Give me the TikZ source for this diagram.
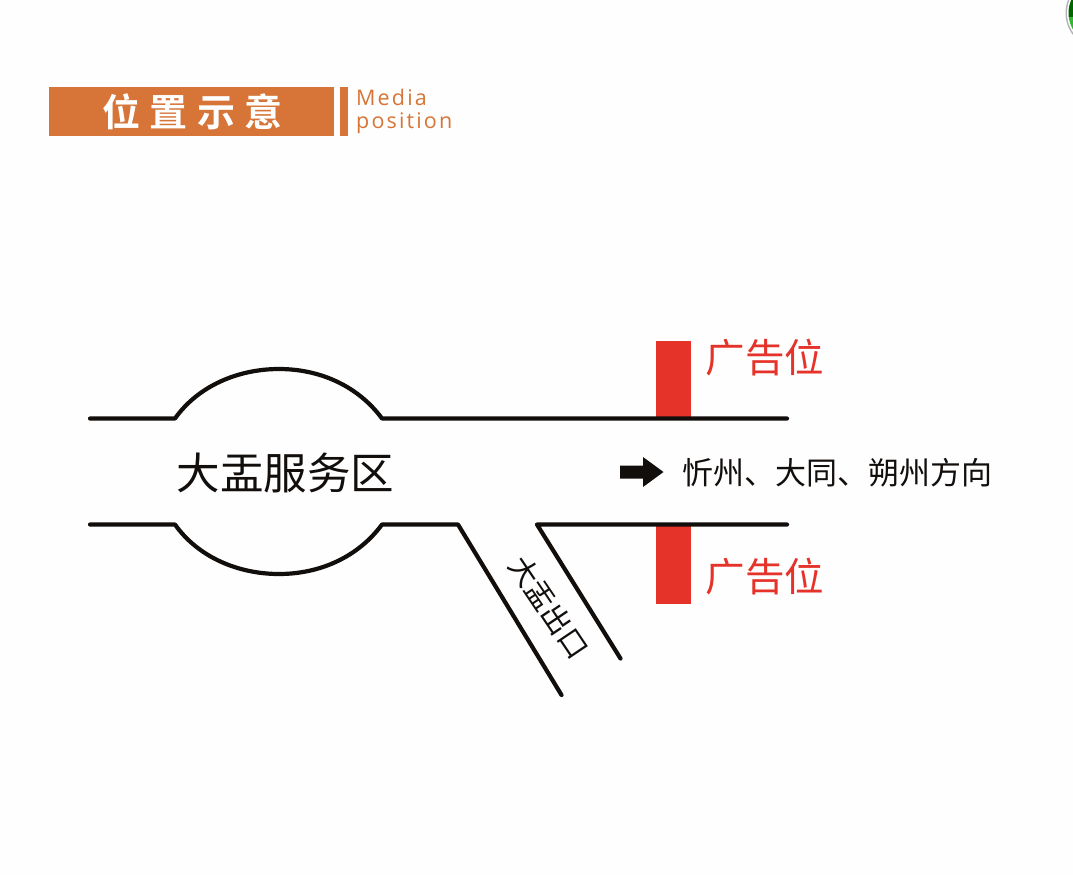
\documentclass[tikz,border=0pt]{standalone}
\usepackage{fontspec}
\newfontfamily\cjk{Noto Sans CJK SC}
\newfontfamily\cjkbold{Noto Sans CJK SC Bold}
\newfontfamily\latinf[LetterSpace=10]{Open Sans}
\definecolor{titleorange}{HTML}{D67537}
\definecolor{adred}{HTML}{E5332A}
\definecolor{roadblack}{HTML}{120E0C}
\tikzset{
  road/.style={draw=roadblack,line width=4.2pt,line cap=round,line join=round},
  adbar/.style={fill=adred,draw=none},
  adlabel/.style={inner sep=0pt,text=adred,font=\cjk\fontsize{39.5}{39.5}\selectfont},
  blacklabel/.style={inner sep=0pt,text=roadblack},
}
\begin{document}
\begin{tikzpicture}[x=1pt,y=-1pt]
\useasboundingbox (0,0) rectangle (1073,876);
\fill[white!99.5!black] (0,0) rectangle (1073,876);
% corner badge
\begin{scope}
\clip (0,0) rectangle (1073,876);
\fill[black!30] (1101.5,13) circle (36);
\fill[white] (1101.5,13) circle (34.5);
\begin{scope}
\clip (1101.5,13) circle (33);
\fill[green!40!black] (1060,-25) rectangle (1110,17);
\fill[green!65!black!80] (1060,17) rectangle (1110,50);
\end{scope}
\end{scope}
% header
\fill[titleorange] (49,87) rectangle (333.5,135.5);
\fill[titleorange] (339.5,87) rectangle (347.5,135.5);
\node[inner sep=0pt,text=white,font=\cjkbold\fontsize{38}{38}\selectfont] (title) at (192.5,112) {位\hspace{9.5pt}置\hspace{9.5pt}示\hspace{9.5pt}意};
\node[inner sep=0pt,anchor=base west,text=titleorange,font=\latinf\fontsize{21.5}{21.5}\selectfont] (media) at (356,105) {Media};
\node[inner sep=0pt,anchor=base west,text=titleorange,font=\latinf\fontsize{21.5}{21.5}\selectfont] (position) at (356,128) {position};
% ad bars
\fill[adbar] (656,341) rectangle (690.5,418);
\fill[adbar] (656,525) rectangle (690.5,603.5);
% roads
\draw[road] (90,418.5) -- (175,418.5) .. controls (198,386) and (238,369) .. (279,369) .. controls (320,369) and (358,386) .. (382,418.5) -- (787,418.5);
\draw[road] (90,524.5) -- (175,524.5) .. controls (198,557) and (238,574) .. (279,574) .. controls (320,574) and (358,557) .. (382,524.5) -- (458,524.5) -- (561.5,695);
\draw[road] (787,524.5) -- (537,524.5) -- (620.5,658.5);
% labels
\node[blacklabel,font=\cjk\fontsize{43.5}{43.5}\selectfont] (area) at (285.5,473) {大盂服务区};
\node[adlabel] (adtop) at (765,358) {广告位};
\node[adlabel] (adbottom) at (765,577) {广告位};
\node[blacklabel,anchor=west,font=\cjk\fontsize{31}{31}\selectfont] (direction) at (682,473) {忻州、大同、朔州方向};
\node[blacklabel,rotate=-56,font=\cjk\fontsize{29}{29}\selectfont] (exit) at (549,607) {大盂出口};
% arrow
\fill[roadblack] (620,465.5) -- (643,465.5) -- (643,457) -- (663.5,472) -- (643,487) -- (643,478.5) -- (620,478.5) -- cycle;
\end{tikzpicture}
\end{document}
